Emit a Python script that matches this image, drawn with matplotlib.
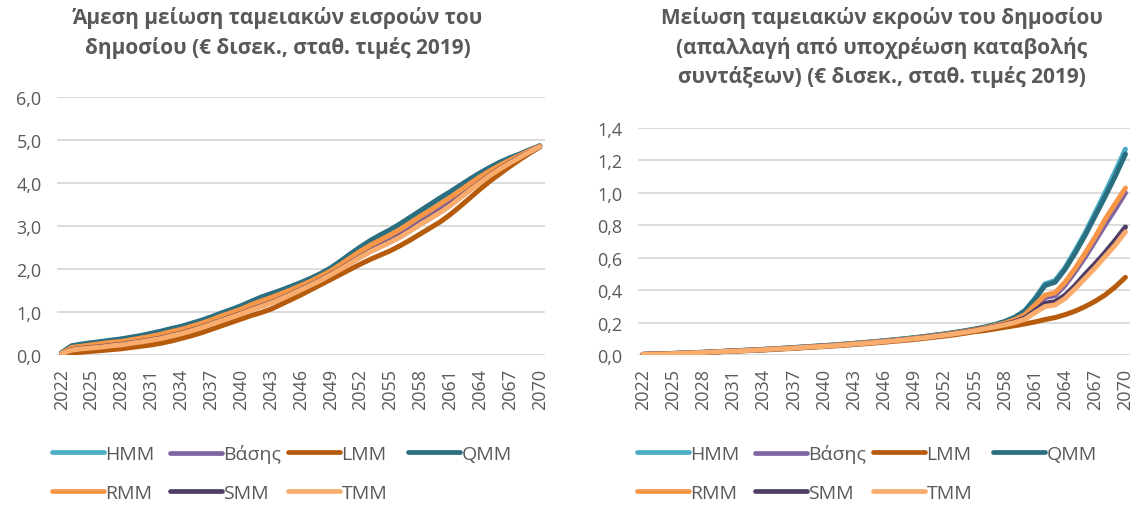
import matplotlib
matplotlib.use("Agg")
import matplotlib.pyplot as plt
from matplotlib.ticker import FuncFormatter, FixedLocator

plt.rcParams['font.family'] = ['Open Sans', 'DejaVu Sans']

years = list(range(2022, 2071))
series_names = ["HMM", "Βάσης", "LMM", "QMM", "RMM", "SMM", "TMM"]
colors = ["#4BACC6", "#8064A2", "#B65A0C", "#2A6E80", "#F79646", "#4F3D66", "#F9AC6C"]

# Left chart: direct reduction of public cash inflows (€ bn, 2019 prices)
left_QMM = [0.06, 0.22, 0.26, 0.29, 0.32, 0.35, 0.38, 0.42, 0.46, 0.51, 0.56, 0.62, 0.67, 0.74, 0.81,
            0.89, 0.98, 1.06, 1.15, 1.25, 1.35, 1.43, 1.51, 1.60, 1.69, 1.79, 1.90, 2.03, 2.19, 2.36,
            2.52, 2.67, 2.80, 2.92, 3.06, 3.21, 3.36, 3.51, 3.66, 3.80, 3.95, 4.10, 4.24, 4.37, 4.49,
            4.59, 4.68, 4.78, 4.87]
left_HMM = [0.06, 0.21, 0.25, 0.28, 0.31, 0.34, 0.37, 0.41, 0.45, 0.50, 0.55, 0.61, 0.66, 0.73, 0.80,
            0.88, 0.97, 1.05, 1.14, 1.23, 1.33, 1.41, 1.49, 1.58, 1.67, 1.77, 1.88, 2.01, 2.17, 2.34,
            2.50, 2.65, 2.78, 2.90, 3.04, 3.19, 3.34, 3.49, 3.64, 3.78, 3.93, 4.08, 4.22, 4.35, 4.48,
            4.58, 4.67, 4.77, 4.87]
left_RMM = [0.05, 0.18, 0.21, 0.24, 0.27, 0.30, 0.32, 0.36, 0.40, 0.44, 0.49, 0.55, 0.60, 0.67, 0.74,
            0.82, 0.91, 0.99, 1.07, 1.17, 1.26, 1.34, 1.43, 1.52, 1.62, 1.72, 1.84, 1.96, 2.11, 2.27,
            2.42, 2.56, 2.68, 2.80, 2.93, 3.08, 3.23, 3.37, 3.52, 3.67, 3.83, 3.99, 4.15, 4.29, 4.42,
            4.54, 4.65, 4.76, 4.86]
left_BASE = [0.05, 0.14, 0.17, 0.20, 0.23, 0.25, 0.28, 0.31, 0.35, 0.39, 0.43, 0.49, 0.54, 0.61, 0.68,
             0.76, 0.85, 0.93, 1.01, 1.10, 1.19, 1.27, 1.36, 1.46, 1.56, 1.67, 1.78, 1.91, 2.05, 2.20,
             2.34, 2.47, 2.59, 2.70, 2.83, 2.97, 3.12, 3.26, 3.41, 3.56, 3.73, 3.90, 4.07, 4.23, 4.37,
             4.50, 4.62, 4.74, 4.86]
left_SMM = [0.04, 0.13, 0.16, 0.18, 0.20, 0.23, 0.25, 0.29, 0.32, 0.36, 0.40, 0.46, 0.51, 0.58, 0.65,
            0.73, 0.81, 0.89, 0.97, 1.06, 1.14, 1.22, 1.32, 1.42, 1.53, 1.64, 1.75, 1.88, 2.01, 2.15,
            2.29, 2.42, 2.53, 2.64, 2.76, 2.90, 3.05, 3.19, 3.33, 3.49, 3.67, 3.85, 4.02, 4.19, 4.34,
            4.48, 4.61, 4.73, 4.85]
left_TMM = [0.04, 0.12, 0.15, 0.17, 0.19, 0.22, 0.24, 0.28, 0.31, 0.35, 0.39, 0.45, 0.50, 0.57, 0.64,
            0.72, 0.80, 0.88, 0.96, 1.05, 1.13, 1.21, 1.31, 1.41, 1.52, 1.63, 1.74, 1.87, 2.00, 2.14,
            2.28, 2.41, 2.52, 2.63, 2.75, 2.89, 3.04, 3.18, 3.32, 3.48, 3.66, 3.84, 4.01, 4.18, 4.33,
            4.47, 4.60, 4.73, 4.85]
left_LMM = [0.03, 0.05, 0.07, 0.09, 0.11, 0.13, 0.15, 0.18, 0.21, 0.24, 0.28, 0.33, 0.39, 0.45, 0.52,
            0.60, 0.68, 0.76, 0.84, 0.92, 0.99, 1.07, 1.18, 1.29, 1.40, 1.52, 1.64, 1.76, 1.88, 2.00,
            2.12, 2.23, 2.33, 2.43, 2.55, 2.68, 2.82, 2.96, 3.10, 3.27, 3.46, 3.66, 3.86, 4.05, 4.22,
            4.39, 4.55, 4.70, 4.84]

# Right chart: reduction of public cash outflows (€ bn, 2019 prices)
right_HMM = [0.005, 0.007, 0.009, 0.011, 0.013, 0.016, 0.018, 0.021, 0.024, 0.027, 0.030, 0.033, 0.036,
             0.040, 0.043, 0.047, 0.051, 0.055, 0.059, 0.063, 0.068, 0.073, 0.078, 0.083, 0.089, 0.095,
             0.101, 0.108, 0.115, 0.123, 0.131, 0.140, 0.150, 0.161, 0.173, 0.189, 0.208, 0.235, 0.275,
             0.350, 0.440, 0.460, 0.540, 0.645, 0.755, 0.880, 1.005, 1.135, 1.270]
right_QMM = [0.005, 0.007, 0.009, 0.011, 0.013, 0.016, 0.018, 0.021, 0.024, 0.027, 0.030, 0.033, 0.036,
             0.040, 0.043, 0.047, 0.051, 0.055, 0.059, 0.063, 0.068, 0.073, 0.078, 0.083, 0.089, 0.095,
             0.101, 0.108, 0.115, 0.123, 0.131, 0.140, 0.150, 0.161, 0.173, 0.188, 0.207, 0.233, 0.272,
             0.345, 0.430, 0.450, 0.530, 0.630, 0.740, 0.860, 0.980, 1.105, 1.240]
right_RMM = [0.005, 0.007, 0.009, 0.011, 0.013, 0.016, 0.017, 0.020, 0.023, 0.026, 0.029, 0.032, 0.035,
             0.039, 0.042, 0.046, 0.049, 0.053, 0.057, 0.061, 0.066, 0.071, 0.076, 0.081, 0.086, 0.092,
             0.098, 0.105, 0.112, 0.119, 0.127, 0.136, 0.146, 0.156, 0.168, 0.182, 0.198, 0.220, 0.250,
             0.310, 0.370, 0.385, 0.450, 0.535, 0.630, 0.730, 0.840, 0.935, 1.030]
right_BASE = [0.005, 0.007, 0.009, 0.011, 0.012, 0.015, 0.017, 0.020, 0.023, 0.026, 0.029, 0.032, 0.035,
              0.038, 0.041, 0.045, 0.049, 0.053, 0.057, 0.060, 0.065, 0.070, 0.075, 0.080, 0.085, 0.091,
              0.097, 0.104, 0.110, 0.118, 0.126, 0.134, 0.144, 0.155, 0.166, 0.180, 0.195, 0.215, 0.243,
              0.300, 0.355, 0.368, 0.432, 0.515, 0.605, 0.705, 0.805, 0.900, 1.000]
right_SMM = [0.005, 0.007, 0.009, 0.010, 0.012, 0.015, 0.017, 0.020, 0.023, 0.026, 0.029, 0.031, 0.034,
             0.038, 0.041, 0.045, 0.048, 0.052, 0.056, 0.060, 0.065, 0.069, 0.074, 0.079, 0.085, 0.090,
             0.096, 0.103, 0.109, 0.117, 0.124, 0.133, 0.143, 0.153, 0.164, 0.177, 0.190, 0.207, 0.230,
             0.275, 0.320, 0.330, 0.370, 0.430, 0.500, 0.565, 0.635, 0.710, 0.790]
right_TMM = [0.005, 0.007, 0.008, 0.010, 0.012, 0.015, 0.017, 0.020, 0.023, 0.025, 0.028, 0.031, 0.034,
             0.038, 0.040, 0.044, 0.048, 0.052, 0.055, 0.059, 0.064, 0.069, 0.073, 0.078, 0.084, 0.089,
             0.095, 0.102, 0.108, 0.116, 0.123, 0.132, 0.141, 0.151, 0.163, 0.175, 0.187, 0.202, 0.222,
             0.262, 0.300, 0.310, 0.350, 0.410, 0.475, 0.540, 0.610, 0.680, 0.760]
right_LMM = [0.005, 0.006, 0.008, 0.010, 0.012, 0.014, 0.016, 0.019, 0.022, 0.024, 0.027, 0.030, 0.032,
             0.036, 0.039, 0.042, 0.046, 0.050, 0.053, 0.057, 0.061, 0.066, 0.070, 0.075, 0.080, 0.086,
             0.091, 0.097, 0.104, 0.111, 0.118, 0.126, 0.135, 0.145, 0.152, 0.162, 0.172, 0.182, 0.193,
             0.205, 0.220, 0.232, 0.250, 0.272, 0.300, 0.333, 0.372, 0.422, 0.480]

left_data = [left_HMM, left_BASE, left_LMM, left_QMM, left_RMM, left_SMM, left_TMM]
right_data = [right_HMM, right_BASE, right_LMM, right_QMM, right_RMM, right_SMM, right_TMM]

left_title = "Άμεση μείωση ταμειακών εισροών του\nδημοσίου (€ δισεκ., σταθ. τιμές 2019)"
right_title = ("Μείωση ταμειακών εκροών του δημοσίου\n(απαλλαγή από υποχρέωση καταβολής\n"
               "συντάξεων) (€ δισεκ., σταθ. τιμές 2019)")

TXT = "#595959"
GRID = "#D9D9D9"
W, H = 1135, 506

fig = plt.figure(figsize=(W / 100, H / 100), dpi=100)
axL = fig.add_axes([0.050, 0.296, 0.430, 0.510])
axR = fig.add_axes([0.562, 0.296, 0.434, 0.449])

def style(ax, data, ymax, ystep, fmt):
    x = list(range(len(years)))
    handles = []
    for name, col, vals in zip(series_names, colors, data):
        h, = ax.plot(x, vals, color=col, lw=3.6, solid_capstyle='round',
                     solid_joinstyle='round', label=name)
        handles.append(h)
    ax.set_xlim(-0.5, len(years) - 0.5)
    ax.set_ylim(0, ymax)
    n = int(round(ymax / ystep))
    ax.set_yticks([i * ystep for i in range(n + 1)])
    ax.yaxis.set_major_formatter(FuncFormatter(lambda v, p: fmt.format(v).replace('.', ',')))
    tick_idx = list(range(0, len(years), 3))
    ax.xaxis.set_major_locator(FixedLocator(tick_idx))
    ax.set_xticklabels([str(years[i]) for i in tick_idx], rotation=90)
    ax.grid(axis='y', color=GRID, lw=1.3)
    ax.set_axisbelow(True)
    for s in ax.spines.values():
        s.set_visible(False)
    ax.tick_params(length=0, colors=TXT, labelsize=13)
    ax.tick_params(axis='x', pad=9)
    ax.tick_params(axis='y', pad=11)
    return handles

hL = style(axL, left_data, 6.0, 1.0, "{:.1f}")
hR = style(axR, right_data, 1.4, 0.2, "{:.1f}")

fig.text(278 / W, 1 - 7 / H, left_title, ha='center', va='top', fontsize=15,
         fontweight='bold', color=TXT, linespacing=1.45)
fig.text(882 / W, 1 - 7 / H, right_title, ha='center', va='top', fontsize=15,
         fontweight='bold', color=TXT, linespacing=1.45)

# legend entries laid out in Excel-like fixed-width cells (row-major order)
col_x = [0, 118, 236, 356]
row_y = [455, 494]
def legend_cells(handles, x0):
    for i, h in enumerate(handles):
        r, c = divmod(i, 4)
        lg = fig.legend(handles=[h], loc='center left',
                        bbox_to_anchor=((x0 + col_x[c]) / W, 1 - row_y[r] / H),
                        frameon=False, fontsize=14, handlelength=2.65, handletextpad=0.1,
                        borderpad=0, borderaxespad=0, labelcolor=TXT)
        for ln in lg.get_lines():
            ln.set_linewidth(3.4)

legend_cells(hL, 52)
legend_cells(hR, 637)

fig.savefig("out.png", dpi=100)
